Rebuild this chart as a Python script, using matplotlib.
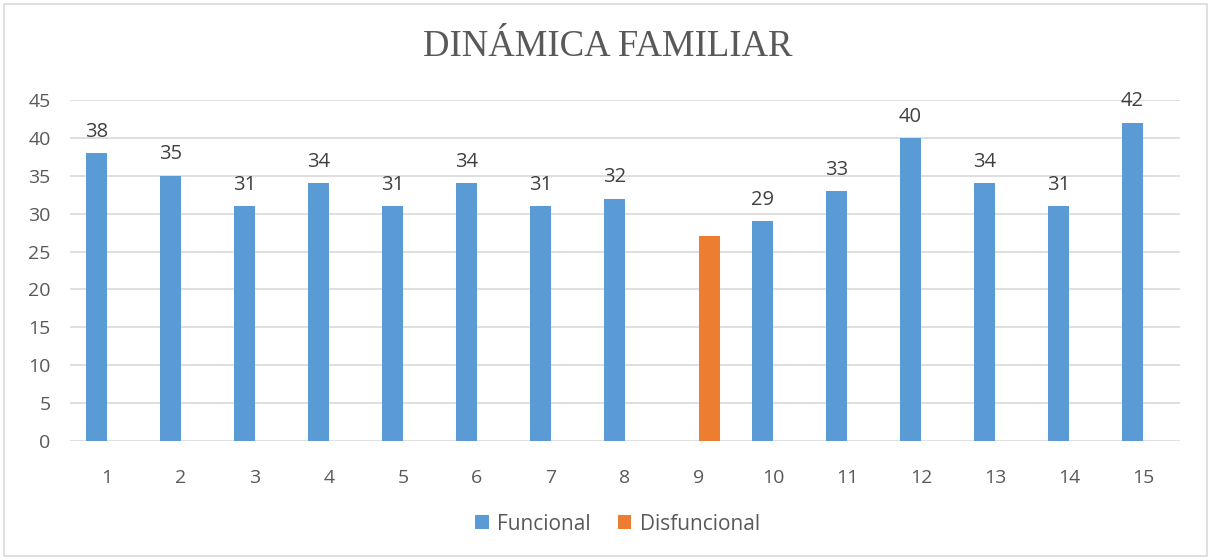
import numpy as np
import matplotlib.pyplot as plt
from matplotlib.patches import Rectangle

categorias = [str(i) for i in range(1, 16)]
funcional = [38, 35, 31, 34, 31, 34, 31, 32, None, 29, 33, 40, 34, 31, 42]
disfuncional = [None] * 8 + [27] + [None] * 6

AZUL = "#5B9BD5"
NARANJA = "#ED7D31"
GRIS = "#595959"

plt.rcParams["font.family"] = ["Open Sans", "DejaVu Sans"]

fig = plt.figure(figsize=(12.11, 5.6), dpi=100)
ax = fig.add_axes([70 / 1211, 1 - 441 / 560, 1110 / 1211, 341 / 560])

# borde del gráfico
fig.patches.append(Rectangle((4 / 1211, 4 / 560), 1203 / 1211, 552 / 560,
                             transform=fig.transFigure, fill=False,
                             edgecolor="#D9D9D9", linewidth=1.2))

x = np.arange(len(categorias))
ancho = 0.29

f_vals = [v if v is not None else 0 for v in funcional]
d_vals = [v if v is not None else 0 for v in disfuncional]

barras_f = ax.bar(x - ancho / 2, f_vals, ancho, color=AZUL, label="Funcional", zorder=3)
ax.bar(x + ancho / 2, d_vals, ancho, color=NARANJA, label="Disfuncional", zorder=3)

for b, v in zip(barras_f, funcional):
    if v is not None:
        ax.text(b.get_x() + b.get_width() / 2, v + 1.5, str(v),
                ha="center", va="bottom", fontsize=14.5, color="#404040")

ax.set_xlim(-0.5, len(categorias) - 0.5)
ax.set_ylim(0, 45)
ax.set_yticks(range(0, 46, 5))
ax.set_xticks(x)
ax.set_xticklabels(categorias)
ax.tick_params(axis="both", length=0, labelsize=14, labelcolor=GRIS)
ax.tick_params(axis="x", pad=20)
ax.tick_params(axis="y", pad=14)
ax.grid(axis="y", color="#D9D9D9", linewidth=1.2, zorder=0)
for s in ax.spines.values():
    s.set_visible(False)

fig.text(608 / 1211, 1 - 47 / 560, "DINÁMICA FAMILIAR", ha="center", va="center",
         fontsize=26.5, color=GRIS, family=["Liberation Serif", "DejaVu Serif"])

fig.legend(loc="center", bbox_to_anchor=(0.51, 1 - 524 / 560), ncol=2, frameon=False,
           fontsize=15, labelcolor=GRIS, handlelength=0.65, handleheight=0.65,
           columnspacing=1.3, handletextpad=0.4)

fig.savefig("out.png", dpi=100)
